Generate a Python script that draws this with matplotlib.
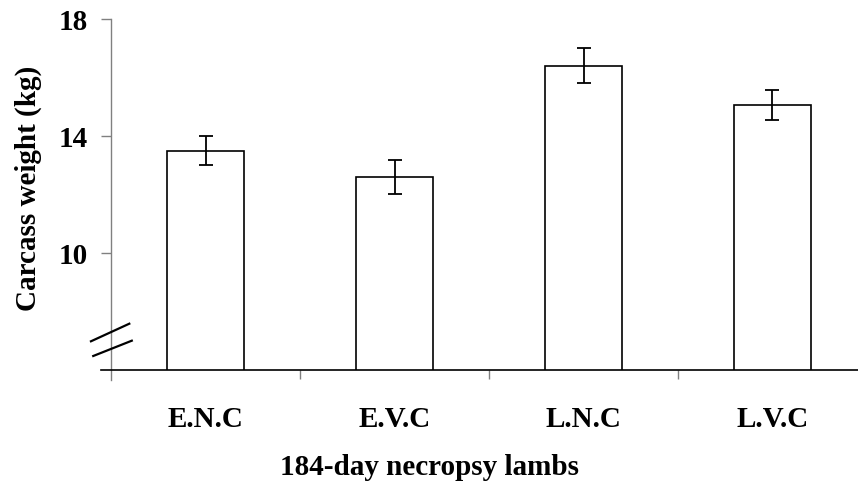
import matplotlib
matplotlib.use("Agg")
import matplotlib.pyplot as plt
from matplotlib.lines import Line2D
import numpy as np

# Carcass weight of lambs at 184-day necropsy, mean with error
groups = ["E.N.C", "E.V.C", "L.N.C", "L.V.C"]
weight = [13.5, 12.6, 16.4, 15.05]
weight_err = [0.5, 0.58, 0.6, 0.52]
y_ticks = [10, 14, 18]

FONT = "Liberation Serif"
AXIS_GRAY = "#808080"

plt.rcParams.update({"font.family": FONT, "font.weight": "bold"})

W, H = 858, 482
fig = plt.figure(figsize=(W / 100, H / 100), dpi=100, facecolor="white")

# plot box in pixels: left 111, right 867, top 19, bottom 370
L, R, T, B = 111, 867, 19, 370
ax = fig.add_axes([L / W, (H - B) / H, (R - L) / W, (B - T) / H])

x = np.arange(len(groups))
ax.bar(x, weight, width=0.41, bottom=0, color="white", edgecolor="black",
       linewidth=1.2, zorder=2)
ax.errorbar(x, weight, yerr=weight_err, fmt="none", ecolor="black",
            elinewidth=1.3, capsize=5, capthick=1.3, zorder=3)

ax.set_xlim(-0.5, len(groups) - 0.5)
ax.set_ylim(6, 18)

for s in ("top", "right"):
    ax.spines[s].set_visible(False)
ax.spines["left"].set_color(AXIS_GRAY)
ax.spines["left"].set_linewidth(1.0)
ax.spines["bottom"].set_color("black")
ax.spines["bottom"].set_linewidth(1.2)

# axis lines run a little past the corner, as in the original layout
px_per_y = (B - T) / 12.0
px_per_x = (R - L) / len(groups)
ax.spines["left"].set_bounds(6 - 10 / px_per_y, 18)
ax.spines["bottom"].set_bounds(-0.5 - 10 / px_per_x, len(groups) - 0.5)

ax.set_yticks(y_ticks)
ax.set_yticklabels([str(v) for v in y_ticks])
ax.tick_params(axis="y", direction="out", length=7, width=1.0, color=AXIS_GRAY,
               pad=10, labelsize=21)

ax.set_xticks(x)
ax.set_xticklabels(groups)
ax.set_xticks(x[:-1] + 0.5, minor=True)
ax.tick_params(axis="x", which="major", length=0, pad=26, labelsize=21)
ax.tick_params(axis="x", which="minor", direction="out", length=6.5, width=1.0,
               color=AXIS_GRAY)
for lab in ax.get_xticklabels() + ax.get_yticklabels():
    lab.set_fontweight("bold")

# axis-break slashes on the value axis
for (x0, y0, x1, y1) in [(-0.0265, 0.0818, 0.0242, 0.1319),
                         (-0.0235, 0.0399, 0.0275, 0.0835)]:
    ax.add_line(Line2D([x0, x1], [y0, y1], transform=ax.transAxes, color="black",
                       linewidth=1.6, clip_on=False, zorder=4))

fig.text(28 / W, 1 - 188 / H, "Carcass weight (kg)", rotation=90, ha="center",
         va="center", fontsize=21, fontweight="bold")
fig.text(430 / W, 1 - 475 / H, "184-day necropsy lambs", ha="center",
         va="baseline", fontsize=21, fontweight="bold")

fig.savefig("out.png", dpi=100, facecolor="white")
plt.close(fig)
